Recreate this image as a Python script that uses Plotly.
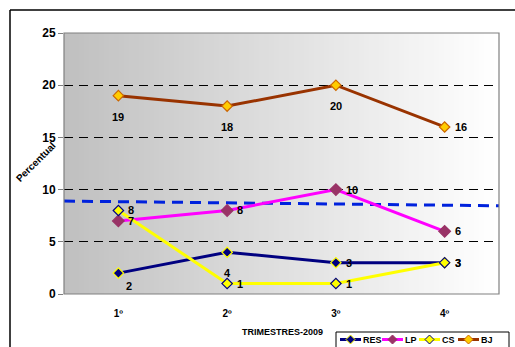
import plotly.graph_objects as go

# Quarterly percentages per indicator
QUARTERS = ["1º", "2º", "3º", "4º"]
RES = [2, 4, 3, 3]
LP = [7, 8, 10, 6]
CS = [8, 1, 1, 3]
BJ = [19, 18, 20, 16]
# Dashed reference line, values at the left and right edges of the plot
TREND_X = [-0.5, 3.5]
TREND_Y = [8.9, 8.45]
Y_TICKS = [0, 5, 10, 15, 20, 25]

W, H = 515, 347
L, R, T, B = 64, 499, 33, 294  # plot-area edges in pixels


def px_x(px):
    return (px - L) / (R - L)


def px_y(py):
    return (B - py) / (B - T)


FONT = "Liberation Sans, Arial, sans-serif"

series = [
    dict(name="RES", y=RES, line="#000080", fill="#000080", edge="#FFFF00", size=8,
         labels=["br", "b", "r", "r"]),
    dict(name="LP", y=LP, line="#FF00FF", fill="#993366", edge="#993366", size=9,
         labels=["r", "r", "r", "r"]),
    dict(name="CS", y=CS, line="#FFFF00", fill="#FFFF00", edge="#000080", size=8,
         labels=["r", "r", "r", "r"]),
    dict(name="BJ", y=BJ, line="#993300", fill="#FFCC00", edge="#CC6600", size=8,
         labels=["b", "b", "b", "r"]),
]

fig = go.Figure()

fig.add_trace(go.Scatter(
    x=TREND_X, y=TREND_Y, mode="lines", showlegend=False, hoverinfo="skip",
    line=dict(color="#0022DD", width=3, dash="11px,7px"),
))

xs = list(range(len(QUARTERS)))
annotations = []
offsets = {"r": (8, 0, "left"), "b": (0, -21, "center"), "br": (11, -13, "center")}
for s in series:
    fig.add_trace(go.Scatter(
        x=xs, y=s["y"], name=s["name"], mode="lines+markers", showlegend=False,
        line=dict(color=s["line"], width=3),
        marker=dict(symbol="diamond", size=s["size"], color=s["fill"],
                    line=dict(color=s["edge"], width=1.2)),
    ))
    for xi, v, pos in zip(xs, s["y"], s["labels"]):
        dx, dy, anchor = offsets[pos]
        annotations.append(dict(
            x=xi, y=v, xref="x", yref="y", text=f"<b>{v}</b>", showarrow=False,
            xshift=dx, yshift=dy, xanchor=anchor, yanchor="middle",
            font=dict(family=FONT, size=11, color="#000000"),
        ))

# Horizontal grey-to-white gradient behind the plot area
shapes = []
n = 87
for i in range(n):
    t = i / (n - 1)
    g = int(round(192 + (255 - 192) * t))
    shapes.append(dict(
        type="rect", xref="x domain", yref="y domain",
        x0=i / n, x1=(i + 1) / n + 0.002, y0=0, y1=1,
        fillcolor=f"rgb({g},{g},{g})", line=dict(width=0), layer="below",
    ))
# Plot-area frame
shapes.append(dict(type="rect", xref="x domain", yref="y domain", x0=0, x1=1, y0=0, y1=1,
                   line=dict(color="#808080", width=1.2), layer="above"))
# Chart frame (top and left edges)
shapes.append(dict(type="line", xref="paper", yref="paper",
                   x0=px_x(10), x1=px_x(520), y0=px_y(10), y1=px_y(10),
                   line=dict(color="#000000", width=1.5)))
shapes.append(dict(type="line", xref="paper", yref="paper",
                   x0=px_x(10), x1=px_x(10), y0=px_y(10), y1=px_y(352),
                   line=dict(color="#000000", width=1.5)))

# Compact legend: frame, line sample with diamond, and name for each series
LEG_TOP, LEG_LEFT, LEG_RIGHT, LEG_CY = 332, 336, 509, 339.5
shapes.append(dict(type="rect", xref="paper", yref="paper",
                   x0=px_x(LEG_LEFT), x1=px_x(LEG_RIGHT), y0=px_y(LEG_TOP), y1=px_y(360),
                   fillcolor="#FFFFFF", line=dict(color="#000000", width=1)))
leg_x = [340, 382, 419, 458]
for s, x0 in zip(series, leg_x):
    x1 = x0 + 21
    shapes.append(dict(type="line", xref="paper", yref="paper",
                       x0=px_x(x0), x1=px_x(x1), y0=px_y(LEG_CY), y1=px_y(LEG_CY),
                       line=dict(color=s["line"], width=3)))
    cx, r = (x0 + x1) / 2, 4.5
    path = (f"M {px_x(cx - r)} {px_y(LEG_CY)} L {px_x(cx)} {px_y(LEG_CY - r)} "
            f"L {px_x(cx + r)} {px_y(LEG_CY)} L {px_x(cx)} {px_y(LEG_CY + r)} Z")
    shapes.append(dict(type="path", xref="paper", yref="paper", path=path,
                       fillcolor=s["fill"], line=dict(color=s["edge"], width=1)))
    annotations.append(dict(
        x=px_x(x1 + 0.5), y=px_y(LEG_CY), xref="paper", yref="paper",
        text=f"<b>{s['name']}</b>", xanchor="left", yanchor="middle", showarrow=False,
        xshift=-1, font=dict(family=FONT, size=9, color="#000000"),
    ))

annotations.append(dict(
    x=px_x(35), y=px_y(162), xref="paper", yref="paper", text="<b>Percentual</b>",
    xanchor="center", yanchor="middle",
    textangle=-45, showarrow=False, font=dict(family=FONT, size=10, color="#000000"),
))
annotations.append(dict(
    x=px_x(282), y=px_y(332), xref="paper", yref="paper", text="<b>TRIMESTRES-2009</b>",
    xanchor="center", yanchor="middle", showarrow=False,
    font=dict(family="Liberation Sans Narrow, Liberation Sans, Arial", size=9,
              color="#000000"),
))

fig.update_layout(
    width=W, height=H,
    margin=dict(l=L, r=W - R, t=T, b=H - B, autoexpand=False),
    paper_bgcolor="#FFFFFF", plot_bgcolor="rgba(0,0,0,0)",
    font=dict(family=FONT, size=11, color="#000000"),
    shapes=shapes, annotations=annotations,
    showlegend=False,
)
fig.update_xaxes(
    range=[-0.5, 3.5], tickvals=xs, ticktext=[f"<b>{q}</b>" for q in QUARTERS],
    showgrid=False, zeroline=False, showline=False, ticks="", ticklabelstandoff=12,
    tickfont=dict(family=FONT, size=10),
)
fig.update_yaxes(
    range=[0, 25], tickvals=Y_TICKS, ticktext=[f"<b>{v}</b>" for v in Y_TICKS],
    showgrid=True, gridcolor="#000000", gridwidth=1, griddash="9px,6px",
    zeroline=False, showline=False, ticks="outside", ticklen=5, tickcolor="#808080",
    tickfont=dict(family=FONT, size=12),
)

fig.write_html("out.html")
